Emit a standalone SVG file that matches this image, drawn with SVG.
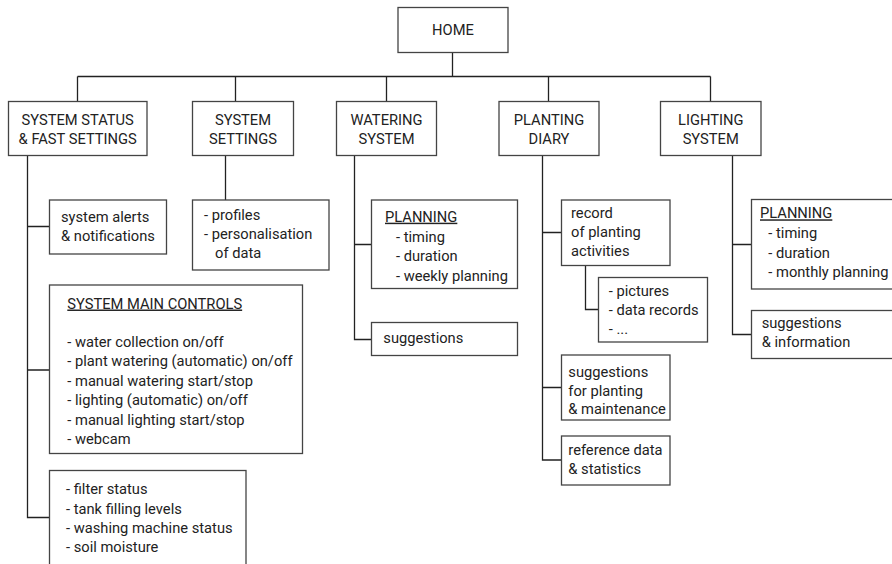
<svg xmlns="http://www.w3.org/2000/svg" width="892" height="564" viewBox="0 0 892 564">
<style>
rect.box{fill:#fff;stroke:#444;stroke-width:1.3}
.conn path{fill:none;stroke:#222;stroke-width:1.3}
text{font-family:Roboto,"Liberation Sans",sans-serif;font-size:14.7px;fill:#222}
.c{text-anchor:middle}
.u{text-decoration:underline}
</style>
<rect width="892" height="564" fill="#fff"/>
<g class="conn">
<path d="M452.5 52 V76.5"/>
<path d="M77.5 76.5 H710.5"/>
<path d="M77.5 76.5 V101.5 M235.5 76.5 V101.5 M386.5 76.5 V101.5 M548.5 76.5 V101.5 M710.5 76.5 V101.5"/>
<path d="M27.5 156 V517.5 H49.5 M27.5 226.5 H49.5 M27.5 370 H49.5"/>
<path d="M225.5 156 V200"/>
<path d="M354.5 156 V339.5 H371.5 M354.5 244.5 H371.5"/>
<path d="M542.5 156 V460 H561.5 M542.5 232.5 H561.5 M542.5 387.5 H561.5"/>
<path d="M585.5 265.5 V309.5 H598.5"/>
<path d="M732.5 156 V334.5 H751.5 M732.5 244.5 H751.5"/>
</g>
<g id="home"><rect class="box" x="398" y="7.5" width="110" height="45"/><text class="c" x="453" y="35">HOME</text></g>
<g id="status"><rect class="box" x="8.5" y="101.5" width="138.5" height="54"/><text class="c" x="77.7" y="125">SYSTEM STATUS</text><text class="c" x="77.7" y="144">&amp; FAST SETTINGS</text></g>
<g id="settings"><rect class="box" x="192.5" y="101.5" width="101" height="54"/><text class="c" x="243" y="125">SYSTEM</text><text class="c" x="243" y="144">SETTINGS</text></g>
<g id="watering"><rect class="box" x="336.5" y="101.5" width="100" height="54"/><text class="c" x="386.5" y="125">WATERING</text><text class="c" x="386.5" y="144">SYSTEM</text></g>
<g id="planting"><rect class="box" x="499" y="101.5" width="100" height="54"/><text class="c" x="549" y="125">PLANTING</text><text class="c" x="549" y="144">DIARY</text></g>
<g id="lighting"><rect class="box" x="660.5" y="101.5" width="100.5" height="54"/><text class="c" x="710.7" y="125">LIGHTING</text><text class="c" x="710.7" y="144">SYSTEM</text></g>
<g id="alerts"><rect class="box" x="49.5" y="200" width="117" height="54"/><text x="61" y="222">system alerts</text><text x="61" y="241">&amp; notifications</text></g>
<g id="maincontrols"><rect class="box" x="49.5" y="285" width="253" height="168.5"/>
<text class="u" x="67.3" y="308.5">SYSTEM MAIN CONTROLS</text>
<text x="67.3" y="346.7">- water collection on/off</text>
<text x="67.3" y="366">- plant watering (automatic) on/off</text>
<text x="67.3" y="385.5">- manual watering start/stop</text>
<text x="67.3" y="405">- lighting (automatic) on/off</text>
<text x="67.3" y="424.5">- manual lighting start/stop</text>
<text x="67.3" y="444">- webcam</text></g>
<g id="statuslist"><rect class="box" x="49.5" y="470.5" width="196.5" height="110"/>
<text x="66" y="494.3">- filter status</text>
<text x="66" y="513.5">- tank filling levels</text>
<text x="66" y="533">- washing machine status</text>
<text x="66" y="552.3">- soil moisture</text></g>
<g id="profiles"><rect class="box" x="192.5" y="200" width="136.5" height="70"/>
<text x="204" y="219.5">- profiles</text><text x="204" y="239">- personalisation</text><text x="215" y="258">of data</text></g>
<g id="wplanning"><rect class="box" x="371.5" y="200" width="146" height="88.5"/>
<text class="u" x="385" y="221.7">PLANNING</text><text x="396" y="241.5">- timing</text><text x="396" y="261">- duration</text><text x="396" y="280.7">- weekly planning</text></g>
<g id="wsuggestions"><rect class="box" x="371.5" y="322.5" width="146" height="33"/><text x="383.3" y="343">suggestions</text></g>
<g id="record"><rect class="box" x="561.5" y="200" width="108.5" height="65.5"/>
<text x="571" y="217.7">record</text><text x="571" y="237">of planting</text><text x="571" y="256">activities</text></g>
<g id="pictures"><rect class="box" x="598.5" y="277.5" width="109" height="64.5"/>
<text x="608.7" y="295.7">- pictures</text><text x="608.7" y="314.5">- data records</text><text x="608.7" y="333.5">- ...</text></g>
<g id="psuggestions"><rect class="box" x="561.5" y="355" width="108.5" height="65"/>
<text x="568.3" y="376.7">suggestions</text><text x="568.3" y="395.5">for planting</text><text x="568.3" y="414">&amp; maintenance</text></g>
<g id="reference"><rect class="box" x="561.5" y="436" width="108.5" height="49"/>
<text x="568.3" y="454.5">reference data</text><text x="568.3" y="473.5">&amp; statistics</text></g>
<g id="lplanning"><rect class="box" x="751.5" y="199.5" width="150" height="89.5"/>
<text class="u" x="760" y="218.3">PLANNING</text><text x="768.3" y="238.3">- timing</text><text x="768.3" y="257.7">- duration</text><text x="768.3" y="277">- monthly planning</text></g>
<g id="lsuggestions"><rect class="box" x="751.5" y="310.5" width="150" height="48"/>
<text x="761.7" y="328">suggestions</text><text x="761.7" y="347">&amp; information</text></g>
</svg>
